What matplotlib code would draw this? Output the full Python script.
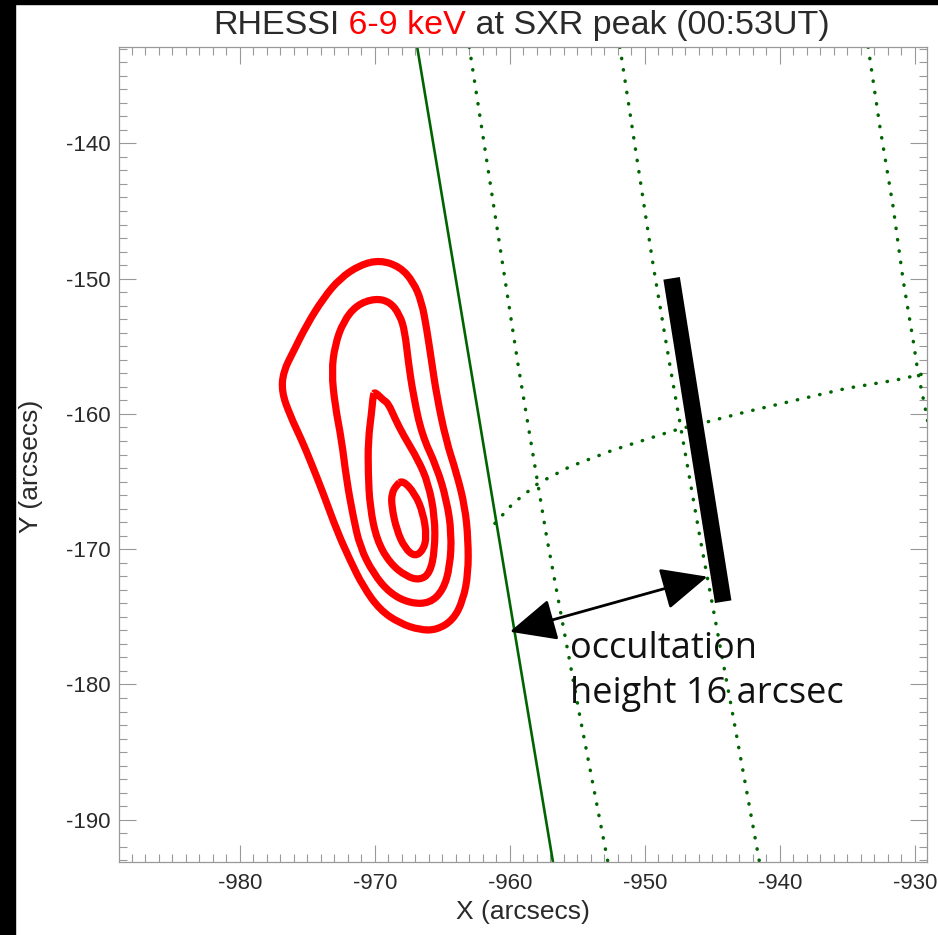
import numpy as np
import matplotlib.pyplot as plt
from matplotlib.patches import Rectangle, PathPatch
from matplotlib.path import Path

plt.rcParams["axes.unicode_minus"] = False

c1_x = [-969.63, -968.15, -967.16, -966.54, -966.17, -965.80, -965.43, -964.74,
        -963.95, -963.33, -963.09, -963.09, -963.46, -964.20, -965.43, -966.67,
        -968.15, -969.63, -970.87, -971.85, -972.84, -973.83, -974.81, -975.43,
        -976.30, -976.91, -976.79, -976.05, -975.06, -973.83, -972.59, -971.11]
c1_y = [-148.63, -149.12, -150.23, -151.71, -153.67, -156.14, -158.60, -161.93,
        -164.39, -166.86, -169.32, -171.78, -173.75, -175.23, -175.97, -175.97,
        -175.48, -174.49, -172.77, -170.80, -168.58, -165.87, -163.41, -161.93,
        -160.08, -158.36, -156.88, -155.40, -153.43, -151.46, -149.98, -148.99]

c2_x = [-970.00, -968.89, -968.15, -967.78, -967.53, -967.16, -966.52, -965.43,
        -964.69, -964.32, -964.44, -964.94, -965.93, -967.41, -968.89, -970.13,
        -971.11, -971.61, -972.10, -972.47, -972.96, -973.21, -972.96, -972.35,
        -971.36]
c2_y = [-151.46, -151.71, -152.69, -153.92, -156.14, -158.60, -161.56, -163.90,
        -166.36, -168.82, -171.29, -173.02, -174.00, -174.00, -173.26, -171.78,
        -169.82, -167.60, -164.89, -161.93, -159.34, -156.88, -154.91, -153.19,
        -151.95]

c3_x = [-970.00, -969.39, -969.01, -968.52, -967.90, -966.79, -966.05, -965.56,
        -965.56, -965.93, -966.67, -967.65, -968.89, -969.87, -970.37, -970.50,
        -970.50, -970.24, -970.13]
c3_y = [-158.36, -158.97, -159.22, -160.33, -161.56, -163.41, -165.13, -167.60,
        -170.06, -171.78, -172.28, -172.03, -171.04, -169.32, -166.86, -164.39,
        -161.93, -159.84, -158.60]

c4_x = [-967.95, -967.04, -966.42, -966.17, -966.42, -967.04, -967.78, -968.39,
        -968.76, -968.76, -968.39]
c4_y = [-164.89, -165.87, -167.35, -169.08, -170.06, -170.55, -169.93, -168.58,
        -166.86, -165.87, -165.25]

# solar limb and heliographic grid
limb_x = [-966.87, -956.81]
limb_y = [-132.88, -193.12]

lon1_x = [-963.01, -959.39, -957.28, -954.81, -952.74]
lon1_y = [-132.88, -156.39, -169.08, -182.38, -193.12]
lon2_x = [-951.85, -949.39, -948.15, -945.93, -943.46, -941.51]
lon2_y = [-132.88, -148.99, -156.39, -169.08, -182.38, -193.12]
lon3_x = [-933.46, -932.59, -931.61, -930.87, -930.13, -929.76, -929.13, -928.80]
lon3_y = [-132.88, -138.77, -144.69, -150.10, -154.54, -157.00, -160.08, -162.00]
lat_x = [-961.11, -959.76, -957.90, -955.56, -952.35, -947.90, -942.47, -938.76,
         -935.06, -931.36, -929.11]
lat_y = [-168.09, -166.61, -165.13, -163.90, -162.67, -161.24, -159.84, -158.97,
         -158.11, -157.49, -156.98]

# loop top bar and occultation arrow
bar_x = [-948.02, -944.20]
bar_y = [-149.98, -173.88]
arrow_start = (-960.00, -176.10)
arrow_end = (-945.37, -172.03)


def smooth_loop(xs, ys):
    # closed quadratic bezier through the midpoints, vertices as controls
    pts = np.column_stack([xs, ys])
    mids = (pts + np.roll(pts, -1, axis=0)) / 2
    verts = [mids[-1]]
    codes = [Path.MOVETO]
    for p, m in zip(pts, mids):
        verts += [p, m]
        codes += [Path.CURVE3, Path.CURVE3]
    return Path(verts, codes)


fig = plt.figure(figsize=(9.38, 9.35), dpi=100)
fig.patches.append(Rectangle((0, 0), 15 / 938, 1, transform=fig.transFigure,
                             color="black", zorder=-1))
fig.patches.append(Rectangle((0, 1 - 4 / 935), 1, 4 / 935, transform=fig.transFigure,
                             color="black", zorder=-1))

ax = fig.add_axes([119 / 938, 1 - 862 / 935, 808 / 938, 815 / 935])

for cx, cy in [(c1_x, c1_y), (c2_x, c2_y), (c3_x, c3_y), (c4_x, c4_y)]:
    ax.add_patch(PathPatch(smooth_loop(cx, cy), fill=False, edgecolor="red",
                           lw=5.2, joinstyle="round"))

ax.plot(limb_x, limb_y, color="darkgreen", lw=1.9)
for gx, gy in [(lon1_x, lon1_y), (lon2_x, lon2_y), (lon3_x, lon3_y), (lat_x, lat_y)]:
    ax.plot(gx, gy, color="darkgreen", lw=2.5, ls=(0, (0.1, 3.2)),
            dash_capstyle="round")

ax.plot(bar_x, bar_y, color="black", lw=12, solid_capstyle="butt")
ax.annotate("", xy=arrow_end, xytext=arrow_start,
            arrowprops=dict(arrowstyle="<|-|>,head_length=1.2,head_width=0.55",
                            mutation_scale=24, color="black", lw=2.0,
                            shrinkA=0, shrinkB=0))

ax.text(-955.56, -178.06, "occultation", fontsize=26, family="Open Sans",
        va="baseline", ha="left", color="#111111")
ax.text(-955.56, -181.39, "height 16 arcsec", fontsize=26, family="Open Sans",
        va="baseline", ha="left", color="#111111")

ax.set_xlim(-988.96, -929.1)
ax.set_ylim(-193.12, -132.88)
ax.set_xticks(np.arange(-980, -929, 10))
ax.set_yticks(np.arange(-190, -139, 10))
ax.set_xticks(np.arange(-988, -929, 1), minor=True)
ax.set_yticks(np.arange(-193, -132, 1), minor=True)

lab_font = ["Liberation Sans Narrow", "Liberation Sans", "DejaVu Sans"]
for lab in ax.get_xticklabels() + ax.get_yticklabels():
    lab.set_family(lab_font)
ax.tick_params(which="both", direction="in", top=True, right=True,
               color="#999999", labelsize=16, labelcolor="#2a2a2a")
ax.tick_params(which="major", length=12, width=0.8)
ax.tick_params(which="minor", length=6, width=0.8)
ax.tick_params(axis="x", pad=8)
ax.tick_params(axis="y", pad=6)
for s in ax.spines.values():
    s.set_color("#999999")
    s.set_linewidth(0.9)

ax.set_xlabel("X (arcsecs)", fontsize=19, family=lab_font, color="#2a2a2a", labelpad=4)
ax.set_ylabel("Y (arcsecs)", fontsize=19, family=lab_font, color="#2a2a2a")
ax.yaxis.set_label_coords(-0.094, 0.485)

t1 = fig.text(213 / 938, 1 - 41 / 935, "RHESSI", fontsize=24.5, family=lab_font,
              color="#2a2a2a", va="bottom", ha="left")
t2 = ax.annotate(" 6-9 keV", xy=(1, 0), xycoords=t1, fontsize=24.5, family=lab_font,
                 color="red", va="bottom", ha="left", annotation_clip=False)
ax.annotate(" at SXR peak (00:53UT)", xy=(1, 0), xycoords=t2, fontsize=24.5,
            family=lab_font, color="#2a2a2a", va="bottom", ha="left",
            annotation_clip=False)

fig.savefig("out.png", dpi=100)
